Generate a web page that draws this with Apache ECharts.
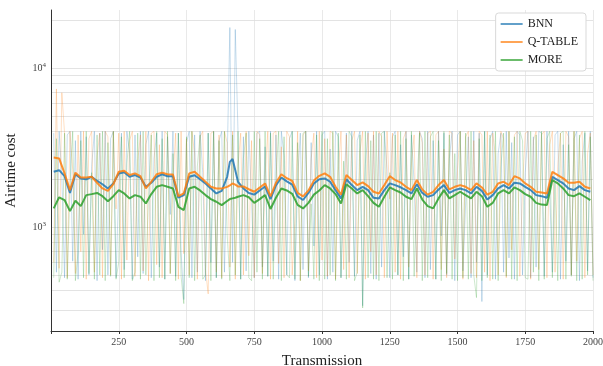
<!DOCTYPE html>
<html>
<head>
<meta charset="utf-8">
<script src="https://cdn.jsdelivr.net/npm/echarts@6/dist/echarts.min.js"></script>
<style>html,body{margin:0;padding:0;background:#fff}#c{width:603px;height:366px}</style>
</head>
<body>
<div id="c"></div>
<script>
// ---- data ----
const seriesNames = ['BNN', 'Q-TABLE', 'MORE'];
const xTicks = [250, 500, 750, 1000, 1250, 1500, 1750, 2000];
const yLabelTicks = [1000, 10000];
const yGridValues = [300, 400, 500, 600, 700, 800, 900, 1000, 2000, 3000, 4000, 5000, 6000, 7000, 8000, 9000, 10000, 20000];

const smoothX = [10,30,50,70,90,110,130,150,170,190,210,230,250,270,290,310,330,350,370,390,410,430,450,470,490,510,530,550,570,590,610,630,650,660,670,680,690,710,730,750,770,790,810,830,850,870,890,910,930,950,970,990,1010,1030,1050,1070,1090,1110,1130,1150,1170,1190,1210,1230,1250,1270,1290,1310,1330,1350,1370,1390,1410,1430,1450,1470,1490,1510,1530,1550,1570,1590,1610,1630,1650,1670,1690,1710,1730,1750,1770,1790,1810,1830,1850,1870,1890,1910,1930,1950,1970,1990];

const bnnSmooth = [2228,2280,2090,1640,2150,2024,2000,2072,1950,1860,1750,1883,2176,2215,2072,2124,2050,1792,1900,2072,2150,2090,2090,1530,1589,2072,2120,2000,1880,1750,1628,1690,2072,2570,2680,2280,1928,1750,1640,1600,1700,1800,1500,1830,2050,1940,1850,1560,1480,1640,1880,2000,2024,1928,1708,1515,2000,1837,1708,1792,1708,1530,1515,1708,1883,1837,1780,1708,1628,1860,1640,1552,1589,1725,1837,1640,1708,1750,1708,1628,1792,1690,1490,1589,1750,1837,1750,1900,1883,1792,1708,1589,1565,1530,2072,1976,1883,1750,1708,1810,1708,1668];

const qtableSmooth = [2740,2704,2176,1708,2200,2050,2050,2072,1900,1750,1690,1860,2228,2260,2124,2176,2090,1750,1928,2150,2200,2150,2140,1565,1628,2176,2228,2072,1928,1792,1750,1750,1790,1830,1880,1850,1800,1800,1730,1668,1770,1880,1560,1900,2150,2030,1950,1640,1560,1700,1960,2100,2176,2072,1792,1600,2124,1976,1837,1910,1810,1668,1628,1837,2090,1976,1910,1792,1708,1976,1725,1600,1668,1837,1976,1725,1792,1837,1792,1708,1883,1775,1600,1668,1883,1928,1837,2090,2024,1883,1792,1668,1650,1628,2228,2124,2024,1900,1900,1928,1792,1750];

const moreSmooth = [1311,1540,1479,1260,1465,1355,1589,1612,1640,1565,1455,1565,1708,1628,1515,1589,1552,1409,1612,1792,1837,1792,1750,1342,1279,1750,1792,1700,1589,1500,1443,1375,1460,1500,1515,1530,1552,1589,1540,1420,1500,1589,1300,1530,1750,1700,1620,1380,1310,1420,1600,1700,1837,1750,1612,1409,1860,1750,1628,1708,1565,1420,1342,1552,1775,1708,1650,1552,1500,1750,1490,1355,1311,1515,1708,1515,1589,1668,1589,1515,1668,1565,1342,1420,1628,1708,1628,1775,1708,1612,1552,1420,1385,1375,1976,1883,1750,1589,1565,1628,1552,1479];

const rawX = [10,20,30,40,50,60,70,80,90,100,110,120,130,140,150,160,170,180,190,200,
210,220,230,240,250,260,270,280,290,300,310,320,330,340,350,360,370,380,390,400,
410,420,430,440,450,460,470,480,490,500,510,520,530,540,550,560,570,580,590,600,
610,620,630,640,650,660,670,680,690,700,710,720,730,740,750,760,770,780,790,800,
810,820,830,840,850,860,870,880,890,900,910,920,930,940,950,960,970,980,990,1000,
1010,1020,1030,1040,1050,1060,1070,1080,1090,1100,1110,1120,1130,1140,1150,1160,1170,1180,1190,1200,
1210,1220,1230,1240,1250,1260,1270,1280,1290,1300,1310,1320,1330,1340,1350,1360,1370,1380,1390,1400,
1410,1420,1430,1440,1450,1460,1470,1480,1490,1500,1510,1520,1530,1540,1550,1560,1570,1580,1590,1600,
1610,1620,1630,1640,1650,1660,1670,1680,1690,1700,1710,1720,1730,1740,1750,1760,1770,1780,1790,1800,
1810,1820,1830,1840,1850,1860,1870,1880,1890,1900,1910,1920,1930,1940,1950,1960,1970,1980,1990,2000];

const bnnRaw = [3900,520,4000,2100,480,3800,4000,610,3500,470,4000,900,3700,500,2400,4000,460,3900,720,4000,
500,3600,4000,480,1800,3900,540,4000,2900,470,3800,650,4000,510,3300,4000,480,2700,3900,560,
4000,470,3700,1200,4000,490,3900,700,350,3400,4000,480,3800,520,4000,2200,460,3900,600,4000,
480,3500,4000,520,2600,18000,600,17500,4000,470,3700,530,4000,1500,480,3900,4000,560,3200,490,
4000,610,3800,470,4000,2800,500,3600,4000,460,2000,3900,540,4000,480,3400,760,4000,500,3800,
4000,470,3100,520,4000,3700,480,1600,3900,600,4000,490,3500,4000,320,2500,4000,510,3800,470,
3900,560,4000,2300,480,3700,4000,500,3300,650,4000,470,3800,1900,520,4000,3600,480,4000,540,
3500,470,4000,880,3900,500,2700,4000,460,3800,4000,530,1400,3700,480,4000,600,3900,340,4000,
500,3600,4000,470,2900,3900,520,4000,640,3400,470,4000,3800,500,2200,4000,480,3700,560,4000,
3900,490,4000,1700,520,3800,4000,470,3300,610,4000,500,3600,4000,460,2600,3900,530,4000,480];

const qtableRaw = [600,7400,550,7000,3900,480,4000,2300,510,3800,700,4000,470,3600,4000,520,2800,3900,480,4000,
3700,500,4000,1300,3900,470,4000,620,3500,4000,490,2600,3800,530,4000,460,3900,4000,580,3300,
480,4000,3800,510,2000,3900,470,4000,680,3600,500,4000,2900,470,3700,4000,540,380,3900,4000,
520,3800,480,4000,3400,560,4000,470,2400,3900,500,4000,660,3500,480,4000,3800,510,2100,4000,
470,3900,4000,590,3200,480,4000,3700,500,1100,4000,460,3800,4000,530,2700,3900,480,4000,620,
3600,490,4000,3900,470,2200,4000,540,3800,480,3500,4000,510,3000,4000,470,3900,700,4000,500,
4000,3700,480,4000,1500,3900,520,4000,470,3600,4000,560,2500,3800,480,4000,3400,500,3900,4000,
470,3800,4000,540,3100,480,4000,3900,630,2300,4000,470,3700,4000,510,3500,480,4000,3800,520,
4000,460,3900,2800,500,4000,3600,480,4000,720,3800,4000,490,1800,3900,4000,470,3500,4000,540,
3800,4000,480,3300,4000,520,2400,3900,470,4000,3700,500,4000,610,3600,4000,480,2900,3900,500];

const moreRaw = [480,3600,450,520,3900,470,1800,4000,460,700,3500,480,4000,510,2200,470,3800,500,4000,460,
3400,490,4000,470,600,3700,480,2500,4000,460,520,3900,470,4000,500,1600,3800,460,4000,480,
3600,470,4000,510,2900,460,3900,490,330,3700,480,4000,460,2400,3800,470,500,3900,460,4000,
480,3500,470,4000,900,460,3800,500,4000,470,2700,3900,480,460,4000,520,3600,470,4000,490,
3900,470,2000,4000,460,3700,500,480,4000,470,3400,460,3900,4000,490,1400,470,3800,460,4000,
470,3600,500,4000,460,3900,480,2600,470,4000,3700,460,520,3800,310,4000,480,3500,470,4000,
460,3900,4000,480,2200,470,3800,500,4000,460,3600,470,4000,490,1700,3900,460,4000,480,3700,
4000,470,3500,460,4000,510,3800,470,2900,460,4000,480,3900,470,4000,500,360,3600,460,4000,
480,3800,470,4000,460,2400,3900,490,4000,470,3700,460,4000,3500,480,470,4000,520,3800,460,
4000,470,3600,4000,480,1900,460,3900,4000,470,3300,490,4000,460,3800,470,4000,500,3700,460];

// ---- chart ----
const colors = ['#1f77b4', '#ff7f0e', '#2ca02c'];
const FONT = 'Liberation Serif';
const pairs = (xs, ys) => xs.map((x, i) => [x, ys[i]]);
const raws = [bnnRaw, qtableRaw, moreRaw];
const smooths = [bnnSmooth, qtableSmooth, moreSmooth];

const series = [];
raws.forEach((r, k) => {
  series.push({
    name: seriesNames[k] + ' raw', type: 'line', data: pairs(rawX, r),
    showSymbol: false, symbol: 'none', silent: true, z: 1,
    lineStyle: { color: colors[k], width: 1, opacity: 0.24 },
    animation: false,
    markLine: k === 0 ? {
      silent: true, symbol: 'none', animation: false, z: 0,
      label: { show: false },
      lineStyle: { color: '#dcdcdc', width: 0.8, type: 'solid' },
      data: yGridValues.map(v => ({ yAxis: v }))
    } : undefined
  });
});
smooths.forEach((s, k) => {
  series.push({
    name: seriesNames[k], type: 'line', data: pairs(smoothX, s),
    showSymbol: false, symbol: 'none', z: 5, animation: false,
    itemStyle: { color: colors[k] },
    lineStyle: { color: colors[k], width: 2, opacity: 0.85 }
  });
});

const chart = echarts.init(document.getElementById('c'), null, { renderer: 'canvas' });
chart.setOption({
  animation: false,
  backgroundColor: '#fff',
  grid: { left: 51, right: 10, top: 10, bottom: 35, containLabel: false, outerBoundsMode: 'none' },
  legend: {
    data: seriesNames, orient: 'vertical', right: 17, top: 13,
    icon: 'rect', itemWidth: 22, itemHeight: 2, itemGap: 6,
    backgroundColor: '#fff', borderColor: '#d9d9d9', borderWidth: 1, borderRadius: 3,
    padding: [5, 8, 5, 5],
    itemStyle: { opacity: 0.7 },
    textStyle: { fontFamily: FONT, fontSize: 12, color: '#222', lineHeight: 12 }
  },
  xAxis: {
    type: 'value', min: 0, max: 2000, interval: 250,
    name: 'Transmission', nameLocation: 'middle', nameGap: 23,
    nameTextStyle: { fontFamily: FONT, fontSize: 15, color: '#222' },
    axisLine: { show: true, lineStyle: { color: '#333', width: 1 } },
    axisTick: { show: true, length: 3, lineStyle: { color: '#333' } },
    axisLabel: {
      fontFamily: FONT, fontSize: 10, color: '#444', margin: 6,
      formatter: v => (xTicks.indexOf(v) >= 0 ? String(v) : '')
    },
    splitLine: { show: true, lineStyle: { color: '#e3e3e3', width: 0.8 } }
  },
  yAxis: {
    type: 'log', logBase: 10, min: 222, max: 23200,
    name: 'Airtime cost', nameLocation: 'middle', nameGap: 32,
    nameTextStyle: { fontFamily: FONT, fontSize: 15, color: '#222' },
    axisLine: { show: true, lineStyle: { color: '#333', width: 1 } },
    axisTick: { show: false },
    axisLabel: {
      fontFamily: FONT, fontSize: 10, color: '#444', margin: 5,
      showMinLabel: false, showMaxLabel: false,
      formatter: v => {
        const r = Math.round(v);
        if (r === yLabelTicks[0]) return '{b|10}{s|3}';
        if (r === yLabelTicks[1]) return '{b|10}{s|4}';
        return '';
      },
      rich: {
        b: { fontFamily: FONT, fontSize: 10, color: '#444' },
        s: { fontFamily: FONT, fontSize: 7, color: '#444', verticalAlign: 'top', padding: [0, 0, 5, 0] }
      }
    },
    splitLine: { show: false }
  },
  series: series
});
</script>
</body>
</html>
